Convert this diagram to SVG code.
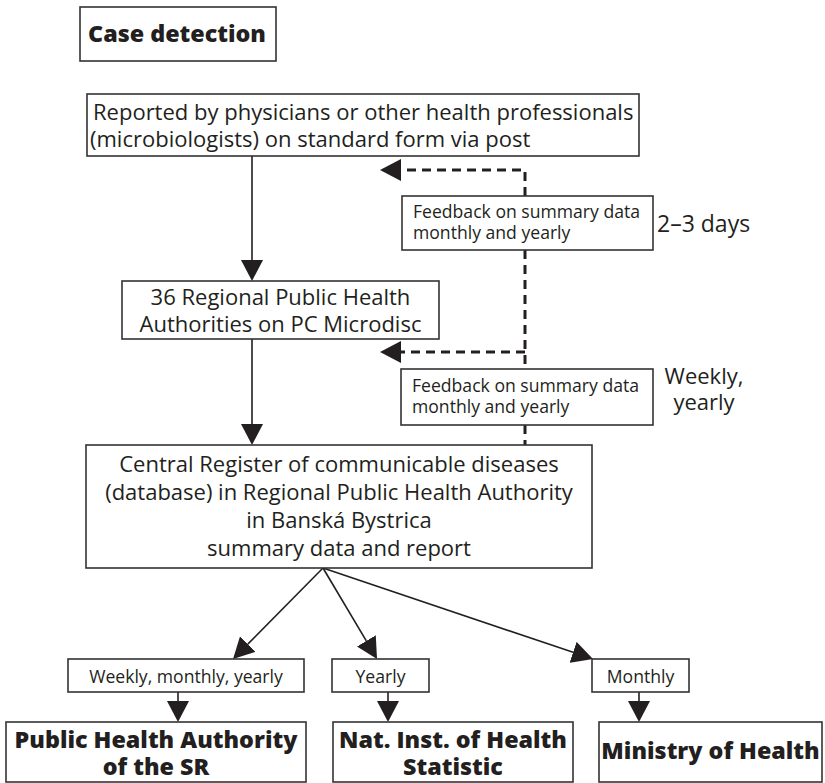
<svg xmlns="http://www.w3.org/2000/svg" width="825" height="783" viewBox="0 0 825 783">
<defs>
<style>
.box{fill:#fff;stroke:#333;stroke-width:1.6}
.t{font-family:"Open Sans","Noto Sans","Liberation Sans",sans-serif;fill:#231f20}
.m{font-size:22px}
.s{font-size:17.6px}
.b{font-size:23.3px;font-weight:800}
.c{text-anchor:middle}
.ln{stroke:#231f20;stroke-width:1.6;fill:none}
.dl{stroke:#231f20;stroke-width:3;fill:none;stroke-dasharray:9 6}
</style>
<marker id="ah" markerUnits="userSpaceOnUse" markerWidth="21" markerHeight="22" viewBox="0 0 21 22" refX="0" refY="11" orient="auto">
<path d="M0,0 L21,11 L0,22 Z" fill="#231f20"/>
</marker>
</defs>
<rect width="825" height="783" fill="#fff"/>
<g id="connectors">
<line class="ln" x1="252" y1="156" x2="252" y2="260" marker-end="url(#ah)"/>
<line class="ln" x1="252" y1="339" x2="252" y2="424" marker-end="url(#ah)"/>
<line class="ln" x1="323" y1="568" x2="247.8" y2="644.1" marker-end="url(#ah)"/>
<line class="ln" x1="323" y1="568" x2="366.3" y2="640.9" marker-end="url(#ah)"/>
<line class="ln" x1="323" y1="568" x2="573.1" y2="652.3" marker-end="url(#ah)"/>
<line class="ln" x1="178" y1="692" x2="178" y2="701" marker-end="url(#ah)"/>
<line class="ln" x1="388" y1="692" x2="388" y2="701" marker-end="url(#ah)"/>
<line class="ln" x1="639" y1="692" x2="639" y2="701" marker-end="url(#ah)"/>
<path class="dl" d="M525,196 V170 H401" marker-end="url(#ah)"/>
<line class="dl" x1="525" y1="250" x2="525" y2="369"/>
<path class="dl" d="M525,352 H401" marker-end="url(#ah)"/>
<line class="dl" x1="525" y1="425" x2="525" y2="445"/>
</g>
<g id="case-detection">
<rect class="box" x="80" y="7" width="196" height="54"/>
<text class="t b c" x="177" y="42">Case detection</text>
</g>
<g id="reported">
<rect class="box" x="87" y="94" width="552" height="62"/>
<text class="t m" x="93" y="120">Reported by physicians or other health professionals</text>
<text class="t m" x="90" y="147">(microbiologists) on standard form via post</text>
</g>
<g id="feedback1">
<rect class="box" x="402" y="196" width="251" height="54"/>
<text class="t s" x="413" y="218">Feedback on summary data</text>
<text class="t s" x="413" y="239">monthly and yearly</text>
</g>
<text class="t m" x="657" y="232" style="font-size:23px">2–3 days</text>
<g id="regional">
<rect class="box" x="122" y="281" width="317" height="58"/>
<text class="t m c" x="280.5" y="305">36 Regional Public Health</text>
<text class="t m c" x="280.5" y="332">Authorities on PC Microdisc</text>
</g>
<g id="feedback2">
<rect class="box" x="401" y="369" width="252" height="56"/>
<text class="t s" x="412" y="392">Feedback on summary data</text>
<text class="t s" x="412" y="413">monthly and yearly</text>
</g>
<text class="t m c" x="704" y="384">Weekly,</text>
<text class="t m c" x="704" y="410">yearly</text>
<g id="central">
<rect class="box" x="86" y="445" width="506" height="123"/>
<text class="t m c" x="339" y="472">Central Register of communicable diseases</text>
<text class="t m c" x="339" y="500">(database) in Regional Public Health Authority</text>
<text class="t m c" x="339" y="528">in Banská Bystrica</text>
<text class="t m c" x="339" y="556">summary data and report</text>
</g>
<g id="label-weekly">
<rect class="box" x="68" y="659" width="236" height="33"/>
<text class="t s c" x="186" y="683">Weekly, monthly, yearly</text>
</g>
<g id="label-yearly">
<rect class="box" x="332" y="659" width="97" height="33"/>
<text class="t s c" x="380.5" y="683">Yearly</text>
</g>
<g id="label-monthly">
<rect class="box" x="592" y="659" width="97" height="33"/>
<text class="t s c" x="640.5" y="683">Monthly</text>
</g>
<g id="pha">
<rect class="box" x="6" y="722" width="300" height="60"/>
<text class="t b c" x="156" y="748">Public Health Authority</text>
<text class="t b c" x="156" y="775">of the SR</text>
</g>
<g id="nihs">
<rect class="box" x="333" y="722" width="240" height="60"/>
<text class="t b c" x="453" y="748">Nat. Inst. of Health</text>
<text class="t b c" x="453" y="775">Statistic</text>
</g>
<g id="moh">
<rect class="box" x="599" y="722" width="223" height="60"/>
<text class="t b c" x="710.5" y="759">Ministry of Health</text>
</g>
</svg>
